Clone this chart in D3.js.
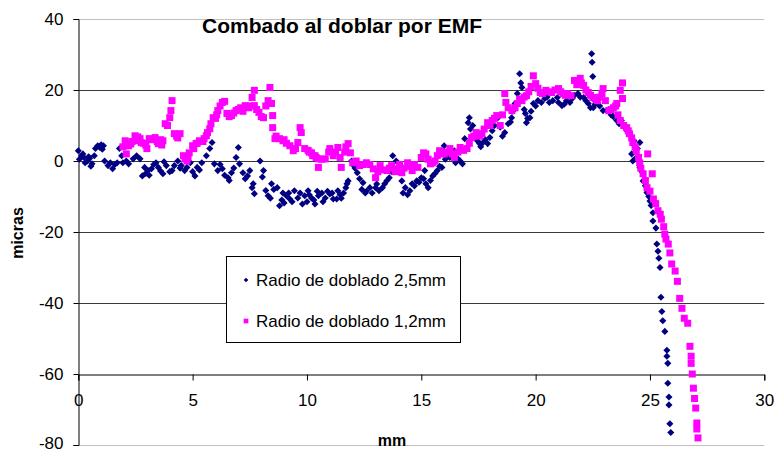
<!DOCTYPE html>
<html><head><meta charset="utf-8">
<script src="https://cdn.jsdelivr.net/npm/d3@7"></script>
<style>
html,body{margin:0;padding:0;background:#fff;}
svg{display:block;font-family:"Liberation Sans",Arial,sans-serif;}
</style></head>
<body>
<svg id="c" width="774" height="452"></svg>
<script>
const title = "Combado al doblar por EMF";
const xLabel = "mm";
const yLabel = "micras";
const seriesNames = ["Radio de doblado 2,5mm", "Radio de doblado 1,2mm"];
const xTicks = [0, 5, 10, 15, 20, 25, 30];
const yTicks = [-80, -60, -40, -20, 0, 20, 40];

// Series 1: Radio de doblado 2,5mm (navy diamonds)
const s1X = [0.0,0.05,0.15,0.25,0.4,0.5,0.6,0.7,0.85,0.95,1.1,1.15,1.3,1.4,1.5,1.6,1.7,1.8,1.9,1.95,2.1,2.2,2.4,2.55,2.7,2.8,2.9,3.05,3.2,3.4,3.5,3.7,3.85,4.1,4.2,4.35,4.5,4.65,4.9,5.1,5.2,5.4,5.6,5.75,5.85,5.95,6.1,6.3,6.55,6.7,6.9,7.0,7.05,7.2,7.4,7.5,7.6,7.65,7.7,7.95,8.1,8.2,8.3,8.45,8.7,8.8,8.95,9.1,9.25,9.45,9.6,9.8,9.9,10.05,10.2,10.35,10.5,10.65,10.8,11.0,11.15,11.3,11.35,11.6,11.75,11.8,11.95,12.05,12.2,12.3,12.45,12.55,12.75,13.0,13.15,13.3,13.4,13.6,13.75,13.9,14.15,14.3,14.5,14.6,14.8,15.0,15.15,15.2,15.3,15.5,15.7,15.9,16.0,16.1,16.25,16.45,16.6,16.8,16.9,17.05,17.1,17.25,17.45,17.55,17.7,17.9,18.0,18.2,18.35,18.65,18.8,18.95,19.1,19.2,19.3,19.35,19.4,19.55,19.6,19.75,19.9,20.1,20.4,20.6,20.95,21.15,21.35,21.6,21.85,22.1,22.3,22.45,22.47,22.5,22.52,22.7,22.95,23.12,23.55,23.75,23.9,24.12,24.2,24.25,24.3,24.35,24.56,24.56,24.7,24.87,25.0,25.13,25.13,25.26,25.3,25.35,25.39,25.44,25.48,25.52,25.56,25.65,25.74,25.74,25.78,25.78,25.83,25.83,25.87,25.91,
  0.2,0.3,0.45,0.55,0.75,1.0,1.05,2.95,3.1,3.3,3.6,3.75,4.0,4.45,4.75,5.0,5.3,6.2,6.4,6.6,6.8,7.3,8.05,8.4,8.55,8.9,9.0,9.2,9.35,9.7,10.0,10.1,10.3,10.45,10.7,10.9,11.1,11.45,11.5,11.7,12.1,12.4,12.6,12.85,13.05,13.5,13.7,14.0,14.2,14.4,14.7,14.9,15.1,15.4,15.6,15.8,16.05,16.35,16.5,16.7,17.15,17.35,17.6,17.8,18.1,18.45,18.55,18.9,19.0,19.5,19.65,19.8,20.0,20.25,20.5,20.75,21.0,21.25,21.5,21.7,21.95,22.2,22.4,22.6,22.8,23.3,23.4,23.65,24.0,24.45,24.65,24.8,24.95,25.05];
const s1Y = [2.9,0.5,1.5,1.0,0,0.8,-0.8,1.5,4.3,3.8,4.3,0,-1.3,-0.5,-2.2,-1.0,-0.5,3.5,1.5,-0.5,0,-0.8,0.6,1.5,0.6,-4.2,-1.8,-2.7,-2.2,-0.5,-1.8,-3.6,-1.3,-2.7,-1.3,0,-1.3,-2.7,-0.5,-4.2,-1.8,-0.5,1.5,3.5,5.2,-0.8,-2.7,-2.2,-4.7,-3.3,1.0,3.8,-0.8,-3.3,-4.2,-2.7,-7.5,-6.4,-9.2,0,-2.7,-8.3,-9.8,-6.4,-7.5,-12.6,-9.0,-9.8,-10.7,-8.4,-10.4,-12.1,-9.8,-8.4,-10.4,-12.1,-9.8,-9.0,-10.4,-9.3,-10.7,-10.7,-8.4,-9.0,-6.4,-5.6,0,-1.3,-3.3,-5.0,-6.1,-9.0,-7.5,-7.5,-8.4,-7.5,-6.4,-4.7,1.5,0,-5.6,-7.5,-8.4,-6.4,-5.6,-4.7,-2.7,-6.4,-7.5,-4.2,-2.7,-1.8,4.3,2.0,1.0,2.9,0.6,-0.8,6.3,10.8,12.2,10.0,5.7,4.9,5.2,4.9,6.6,10.0,12.2,8.0,10.5,12.2,16.2,19.0,24.6,22,20.7,13.4,10.8,12.2,16.2,17.0,17.6,16.5,17.9,15.6,17.0,17.6,19.0,17.9,16.2,30.2,27.8,23.8,15.0,16.5,14.2,14.2,11.4,11.4,9.4,7.7,2.0,0,5.7,0.6,-1.8,5.2,-5.6,-8.9,-11.3,-14.6,-16.9,-18.9,-23.4,-25.4,-27.4,-30.0,-38.4,-42.4,-45.0,-48.0,-53.3,-55.0,-57.0,-62.6,-66.5,-68.7,-74.0,-76.5,
  2.0,-0.5,1.2,-1.5,3.5,4.6,3.3,-3.5,-4.0,-1.0,-2.8,-0.2,-3.0,-2.0,-1.8,-3.0,-2.5,-1.0,-4.0,-5.5,-2.0,-5.0,-4.5,-10.5,-8.0,-11.0,-11.8,-9.0,-11.5,-9.0,-11.5,-9.5,-11.0,-8.5,-11.5,-8.5,-9.0,-9.5,-10.5,-7.5,-2.0,-8.0,-8.5,-9.0,-6.5,-5.5,-3.0,-3.0,-9.0,-9.5,-7.0,-6.0,-5.0,-5.5,-3.5,-1.5,0.5,1.5,-0.5,0.0,9.0,7.5,4.0,6.0,8.5,9.5,7.0,11.0,14.0,14.5,12.0,14.0,15.5,16.5,18.0,17.0,16.5,16.0,16.5,18.5,18.0,17.0,15.0,16.0,15.5,13.0,12.5,10.5,8.5,3.5,-3.0,-7.0,-10.0,-12.5];

// Series 2: Radio de doblado 1,2mm (magenta squares)
const s2X = [1.95,2.05,2.1,2.2,2.35,2.48,2.55,2.7,2.85,3.0,3.1,3.36,3.5,3.6,3.7,3.8,3.9,4.0,4.05,4.1,4.2,4.3,4.45,4.67,4.8,4.85,5.0,5.15,5.3,5.45,5.6,5.75,5.9,6.0,6.1,6.3,6.4,6.5,6.7,6.9,7.1,7.3,7.45,7.6,7.7,7.7,7.9,8.1,8.3,8.38,8.45,8.5,8.5,8.6,8.8,8.95,9.1,9.25,9.4,9.6,9.7,9.75,9.9,10.05,10.2,10.35,10.5,10.5,10.65,10.8,11.0,11.15,11.35,11.5,11.65,11.8,11.9,12.0,12.3,12.6,12.75,12.9,13.0,13.2,13.5,13.7,13.95,14.15,14.4,14.6,14.85,15.1,15.2,15.4,15.6,15.8,16.0,16.25,16.45,16.7,17.0,17.2,17.4,17.65,17.9,18.1,18.3,18.45,18.65,18.7,18.96,19.2,19.4,19.6,19.9,20.0,20.2,20.45,20.7,21.0,21.2,21.4,21.55,21.7,21.95,22.1,22.3,22.5,22.7,22.9,22.95,23.2,23.4,23.55,23.7,23.8,23.8,23.7,23.98,24.1,24.25,24.4,24.55,24.7,24.87,24.9,25.1,25.15,25.35,25.5,25.65,25.8,25.87,25.95,26.1,26.2,26.3,26.4,26.5,26.65,26.75,26.8,26.8,26.85,26.9,26.95,27.0,27.05,27.05,27.1,
  2.3,2.6,2.75,2.95,3.2,3.45,3.65,4.35,4.6,4.75,5.05,5.2,5.5,5.65,5.8,6.05,6.2,6.6,6.8,7.0,7.2,7.55,7.8,8.0,8.2,8.65,9.0,9.5,10.1,10.25,10.4,10.95,11.25,11.45,11.7,12.15,12.45,13.1,13.3,13.6,13.85,14.05,14.25,14.5,14.7,15.0,15.3,15.5,15.7,15.9,16.1,16.35,16.6,16.85,17.1,17.3,17.55,17.75,18.0,18.2,18.55,18.8,19.1,19.3,19.5,19.7,19.8,20.1,20.3,20.6,20.85,21.1,21.3,21.8,22.0,22.2,22.4,22.6,22.8,23.05,23.3,23.5,23.6,23.85,24.05,24.2,24.35,24.5,24.6,24.8,25.0,25.25,25.45,25.6,25.7];
const s2Y = [4.0,5.7,2.0,4.3,5.5,7.1,5.7,6.3,5.0,3.5,6.3,6.6,4.9,6.0,5.7,10.5,10.0,12.2,14.2,17.0,7.7,7.0,7.7,0.6,1.0,2.3,4.3,4.9,5.7,5.5,7.1,9.1,12.2,12.0,14.2,16.5,16.8,13.4,12.8,14.2,15.0,15.6,15.0,17.9,19.9,15.6,13.7,12.2,17.0,20.7,16.2,12.8,9.4,6.3,6.3,5.7,5.0,4.3,2.9,5.2,9.4,8.0,3.5,3.0,2.3,1.5,0.6,-1.8,0.5,0.6,3.5,1.5,3.8,-1.8,2.5,4.9,2.3,-0.5,-1.3,-0.5,-1.0,-2.2,-4.7,-1.3,-2.7,-1.3,-2.2,-3.3,-0.5,-2.7,-1.8,2.3,2.0,-0.8,0,2.9,2.0,3.5,1.0,3.8,3.5,6.6,8.0,7.7,10.8,11.4,12.8,10.0,19.0,16.5,14.2,16.2,17.0,18.4,24.0,21.8,19.3,19.9,19.3,20.4,19.0,19.0,18.4,22.7,23.3,21.3,19.3,17.9,17.0,19.0,20.4,14.2,15.0,16.2,19.9,22.0,17.6,11.4,9.4,7.7,5.2,2.9,-0.5,-3.6,-7.5,2.0,-3.6,-10.7,-14.0,-16.4,-20.6,-23.4,-25.9,-29.0,-31.0,-33.9,-38.7,-41.5,-44.3,-45.7,-52.2,-55.0,-57.0,-60.0,-64.0,-66.9,-69.6,-73.8,-75.5,-78.0,
  4.8,6.8,5.2,4.5,6.0,5.5,4.5,6.5,1.5,0.0,3.5,5.0,6.3,8.0,10.5,13.0,15.5,12.5,13.5,14.5,14.0,15.5,14.5,12.5,15.5,7.0,6.0,3.5,2.5,1.5,1.0,2.5,2.5,1.0,4.0,0.0,-1.0,-3.0,-2.5,-2.0,-3.0,-1.0,-2.0,-1.5,-1.0,1.0,0.5,-0.5,1.5,2.0,2.5,2.0,2.5,3.0,5.0,7.0,7.0,9.0,10.0,12.0,13.0,15.0,15.0,17.5,18.0,19.5,21.0,20.5,19.0,19.5,20.0,19.5,18.5,21.5,22.0,20.0,18.5,17.5,18.0,17.0,14.5,15.5,13.0,10.0,8.5,6.5,4.0,1.0,-2.0,-5.5,-8.5,-12.0,-15.0,-18.5,-22.0];

const svg = d3.select("#c");
const x = d3.scaleLinear().domain([0, 30]).range([78.3, 764.3]);
const y = d3.scaleLinear().domain([-80, 40]).range([445, 19]);
const F = '"Liberation Sans", Arial, sans-serif';
const fmt = d => String(d);

// gridlines
const gridVals = yTicks.filter(v => v > -80 && v < 40 && v !== -60);
svg.append("g").selectAll("line").data(gridVals).join("line")
  .attr("x1", x(0)).attr("x2", x(30))
  .attr("y1", d => Math.round(y(d)) + 0.5).attr("y2", d => Math.round(y(d)) + 0.5)
  .attr("stroke", "#3a3a3a").attr("stroke-width", 1);
// plot border top and bottom (light gray)
svg.append("g").selectAll("line").data([40, -80]).join("line")
  .attr("x1", x(0)).attr("x2", x(30))
  .attr("y1", d => Math.round(y(d)) + 0.5).attr("y2", d => Math.round(y(d)) + 0.5)
  .attr("stroke", "#c0c0c0").attr("stroke-width", 1);

// x axis at y=-60
const xAxis = d3.axisBottom(x).tickValues(xTicks).tickSize(6).tickPadding(13).tickFormat(fmt);
const gx = svg.append("g").attr("transform", `translate(0,${Math.round(y(-60)) + 0.5})`).call(xAxis);
gx.select(".domain").attr("stroke", "#000");
gx.selectAll(".tick line").attr("stroke", "#000");
gx.selectAll("text").attr("font-family", F).attr("font-size", 17).attr("fill", "#000");

// y axis
const yAxis = d3.axisLeft(y).tickValues(yTicks).tickSize(5).tickPadding(10).tickFormat(fmt);
const gy = svg.append("g").attr("transform", `translate(${Math.round(x(0)) + 0.5},0)`).call(yAxis);
gy.select(".domain").attr("stroke", "#000");
gy.selectAll(".tick line").attr("stroke", "#000");
gy.selectAll("text").attr("font-family", F).attr("font-size", 17).attr("fill", "#000");
gy.selectAll(".tick").filter(d => d === -80).select("text").attr("dy", "0.22em");

// data
const d1 = s1X.map((v, i) => ({x: v, y: s1Y[i]}));
const d2 = s2X.map((v, i) => ({x: v, y: s2Y[i]}));
const diamond = d3.symbol().type(d3.symbolDiamond2).size(32);
const square = d3.symbol().type(d3.symbolSquare).size(49);

svg.append("g").selectAll("path").data(d1).join("path")
  .attr("d", diamond)
  .attr("transform", d => `translate(${x(d.x)},${y(d.y)})`)
  .attr("fill", "#000080");
svg.append("g").selectAll("path").data(d2).join("path")
  .attr("d", square)
  .attr("transform", d => `translate(${x(d.x)},${y(d.y)})`)
  .attr("fill", "#ff00ff");

// title and axis labels
svg.append("text").attr("x", 342).attr("y", 33).attr("text-anchor", "middle")
  .attr("font-family", F).attr("font-weight", "bold").attr("font-size", 21).text(title);
svg.append("text").attr("x", 392).attr("y", 446).attr("text-anchor", "middle")
  .attr("font-family", F).attr("font-weight", "bold").attr("font-size", 16).text(xLabel);
svg.append("text").attr("transform", "translate(23,233) rotate(-90)").attr("text-anchor", "middle")
  .attr("font-family", F).attr("font-weight", "bold").attr("font-size", 16).text(yLabel);

// legend
const lg = svg.append("g");
lg.append("rect").attr("x", 226.5).attr("y", 256.5).attr("width", 234).attr("height", 86)
  .attr("fill", "#fff").attr("stroke", "#000").attr("stroke-width", 1);
const legItems = [
  {name: seriesNames[0], sym: d3.symbol().type(d3.symbolDiamond2).size(14), color: "#000080", cy: 280, ty: 286},
  {name: seriesNames[1], sym: d3.symbol().type(d3.symbolSquare).size(22), color: "#ff00ff", cy: 321, ty: 327}
];
legItems.forEach(it => {
  lg.append("path").attr("d", it.sym).attr("transform", `translate(246,${it.cy})`).attr("fill", it.color);
  lg.append("text").attr("x", 256).attr("y", it.ty).attr("font-family", F).attr("font-size", 17).text(it.name);
});
</script>
</body></html>
